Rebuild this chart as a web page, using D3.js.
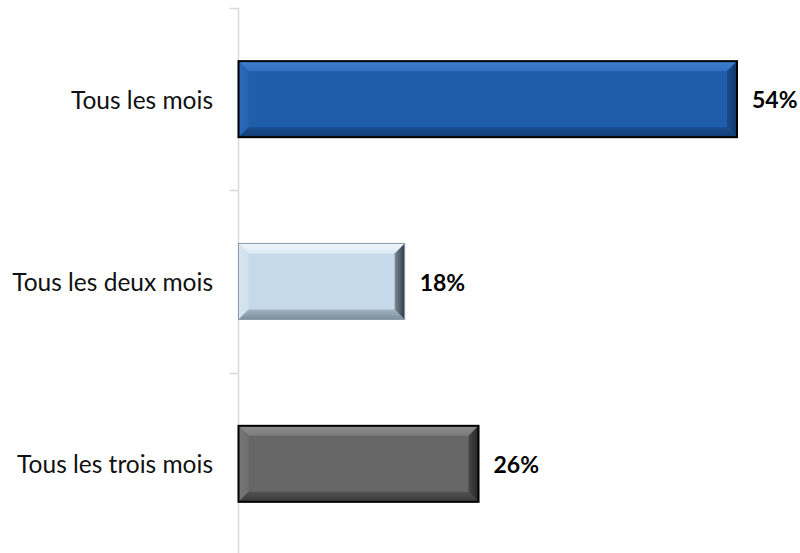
<!DOCTYPE html>
<html><head><meta charset="utf-8">
<script src="https://cdn.jsdelivr.net/npm/d3@7"></script>
<style>body{margin:0;background:#fff}svg{display:block}</style>
</head><body>
<script>
const categories = ["Tous les mois", "Tous les deux mois", "Tous les trois mois"];
const values = [54, 18, 26];
const valueLabels = ["54%", "18%", "26%"];
const barStyles = [
  {main:"#1F5DAA", top:"#3F80D0", left:"#2A6ABA", bottom:"#123D73", right:"#103869", stroke:"#000", sw:2},
  {main:"#C6D9EA", top:"#EEF7FD", left:"#D8E6F2", bottom:"#7D8C99", right:"#313A44", stroke:"#8E9CA8", sw:1},
  {main:"#666666", top:"#8C8C8C", left:"#767676", bottom:"#3A3A3A", right:"#262626", stroke:"#000", sw:2}
];

const W = 800, H = 553;
const svg = d3.select("body").append("svg").attr("width", W).attr("height", H);
const defs = svg.append("defs");

const axisX = 238.5;
const x = d3.scaleLinear().domain([0, 54]).range([axisX, 737]);
const y = d3.scaleBand().domain(categories).range([8, 555]).paddingInner(0.583).paddingOuter(0.2915);

// axis
const step = y.step();
const tickYs = d3.range(categories.length + 1).map(i => 8 + i * step);
const axisG = svg.append("g");
axisG.append("line").attr("x1", axisX).attr("x2", axisX).attr("y1", 8).attr("y2", 555)
  .attr("stroke", "#D9D9D9").attr("stroke-width", 1.5);
axisG.selectAll("line.tick").data(tickYs).join("line").attr("class","tick")
  .attr("x1", axisX - 9).attr("x2", axisX).attr("y1", d => Math.round(d)+0.5).attr("y2", d => Math.round(d)+0.5)
  .attr("stroke", "#D9D9D9").attr("stroke-width", 1.5);

// category labels
svg.selectAll("text.cat").data(categories).join("text").attr("class","cat")
  .attr("x", 213).attr("y", d => y(d) + y.bandwidth()/2)
  .attr("text-anchor","end").attr("dominant-baseline","central")
  .attr("font-family","Lato, 'Open Sans', sans-serif").attr("font-size", 24.5).attr("fill","#111")
  .text(d => d);

function grad(id, dir, c0, c1) {
  const g = defs.append("linearGradient").attr("id", id);
  const m = {down:[0,0,0,1], up:[0,1,0,0], right:[0,0,1,0], left:[1,0,0,0]}[dir];
  g.attr("x1", m[0]).attr("y1", m[1]).attr("x2", m[2]).attr("y2", m[3]);
  g.append("stop").attr("offset", 0).attr("stop-color", c0);
  g.append("stop").attr("offset", 1).attr("stop-color", c1);
  return `url(#${id})`;
}

// bars with bevel
const b = 10;
categories.forEach((c, i) => {
  const s = barStyles[i];
  const mix = (a, t) => d3.interpolateRgb(a, s.main)(t);
  const x0 = x(0), x1 = x(values[i]), y0 = y(c), y1 = y(c) + y.bandwidth();
  const g = svg.append("g");
  g.append("rect").attr("x", x0).attr("y", y0).attr("width", x1 - x0).attr("height", y1 - y0).attr("fill", s.main);
  const polys = [
    {pts:[[x0,y0],[x1,y0],[x1-b,y0+b],[x0+b,y0+b]], fill:grad("t"+i, "down", s.top, mix(s.top, 0.45))},
    {pts:[[x0,y0],[x0+b,y0+b],[x0+b,y1-b],[x0,y1]], fill:grad("l"+i, "right", s.left, mix(s.left, 0.45))},
    {pts:[[x0,y1],[x0+b,y1-b],[x1-b,y1-b],[x1,y1]], fill:grad("b"+i, "down", mix(s.bottom, 0.5), s.bottom)},
    {pts:[[x1,y0],[x1,y1],[x1-b,y1-b],[x1-b,y0+b]], fill:grad("r"+i, "right", mix(s.right, 0.5), s.right)}
  ];
  g.selectAll("polygon").data(polys).join("polygon")
    .attr("points", d => d.pts.map(p => p.join(",")).join(" "))
    .attr("fill", d => d.fill);
  g.append("rect").attr("x", x0).attr("y", y0).attr("width", x1 - x0).attr("height", y1 - y0)
    .attr("fill","none").attr("stroke", s.stroke).attr("stroke-width", s.sw);
  svg.append("text").attr("x", x1 + 15).attr("y", (y0 + y1)/2)
    .attr("dominant-baseline","central")
    .attr("font-family","Lato, 'Open Sans', sans-serif").attr("font-weight","bold")
    .attr("font-size", 23).attr("fill","#000").text(valueLabels[i]);
});
</script>
</body></html>
